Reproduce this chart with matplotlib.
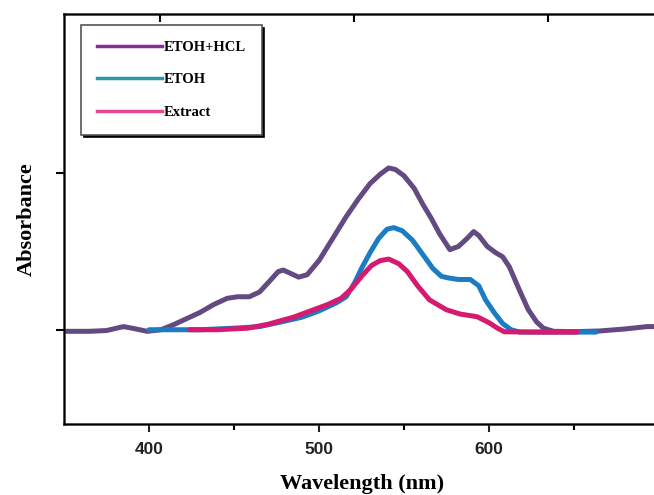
import numpy as np
from matplotlib import pyplot as plt
from matplotlib.lines import Line2D

# UV-Vis spectra
wl_hcl = [351, 365, 375, 381, 385, 390, 399, 407, 414, 422, 430, 438, 446, 452, 459,
          465, 471, 476, 479, 483, 488, 493, 500, 508, 516, 523, 530, 536, 541, 545,
          550, 556, 561, 566, 571, 577, 582, 587, 591, 594, 599, 604, 608, 612, 618,
          623, 628, 632, 638, 650, 665, 680, 693, 700]
abs_hcl = [-0.01, -0.01, -0.005, 0.01, 0.02, 0.01, -0.01, 0.0, 0.03, 0.07, 0.11, 0.16, 0.20, 0.21, 0.21,
           0.24, 0.31, 0.37, 0.38, 0.36, 0.335, 0.35, 0.44, 0.58, 0.72, 0.83, 0.93, 0.99, 1.03, 1.02,
           0.98, 0.90, 0.80, 0.71, 0.61, 0.51, 0.53, 0.58, 0.625, 0.60, 0.53, 0.49, 0.465, 0.40, 0.25,
           0.13, 0.05, 0.01, -0.01, -0.012, -0.008, 0.005, 0.02, 0.02]

wl_etoh = [400, 412, 430, 450, 465, 478, 490, 500, 510, 516, 521, 525, 530, 535, 540,
           544, 549, 555, 561, 567, 572, 576, 582, 589, 594, 598, 603, 608, 613, 618,
           640, 663]
abs_etoh = [0.0, 0.0, 0.0, 0.01, 0.02, 0.05, 0.08, 0.12, 0.17, 0.21, 0.30, 0.39, 0.49, 0.58, 0.64,
            0.65, 0.63, 0.57, 0.48, 0.39, 0.34, 0.33, 0.32, 0.32, 0.28, 0.19, 0.11, 0.04, 0.0, -0.015,
            -0.015, -0.015]

wl_ext = [424, 440, 458, 470, 485, 495, 505, 513, 519, 525, 531, 536, 541, 547, 552,
          558, 565, 575, 583, 593, 600, 605, 609, 630, 652]
abs_ext = [0.0, 0.0, 0.01, 0.035, 0.08, 0.12, 0.16, 0.20, 0.26, 0.34, 0.41, 0.44, 0.45, 0.42, 0.37,
           0.28, 0.19, 0.127, 0.10, 0.083, 0.045, 0.01, -0.013, -0.015, -0.015]

labels = ['ETOH+HCL', 'ETOH', 'Extract']
line_colors = ['#634a80', '#1b7cc4', '#d61a6f']
legend_colors = ['#8b2c9b', '#2c9aa6', '#e64796']
top_ticks = [406.5, 520.6, 634.7]

fig = plt.figure(figsize=(6.54, 4.95), dpi=100)
ax = fig.add_axes([64 / 654, 1 - 424 / 495, 596 / 654, 410 / 495])

for x, y, c in zip([wl_hcl, wl_etoh, wl_ext], [abs_hcl, abs_etoh, abs_ext], line_colors):
    ax.plot(x, y, color=c, lw=3.6, solid_joinstyle='round', solid_capstyle='round')

ax.set_xlim(350, 700.6)
ax.set_ylim(-0.6, 2.01)
ax.set_xticks([400, 500, 600])
ax.set_xticks([450, 550, 650], minor=True)
ax.set_yticks([0, 1])
ax.set_yticklabels([])
ax.tick_params(axis='x', which='major', direction='out', length=6, width=1.5, pad=7,
               labelsize=12.5, colors='#222222')
ax.tick_params(axis='x', which='minor', direction='out', length=4, width=1.5)
ax.tick_params(axis='y', direction='out', length=6, width=1.5)
for lab in ax.get_xticklabels():
    lab.set_fontfamily('Liberation Sans')
    lab.set_fontweight('bold')
for s in ax.spines.values():
    s.set_linewidth(1.8)
    s.set_color('#222222')

ax2 = ax.twiny()
ax2.set_xlim(ax.get_xlim())
ax2.set_xticks(top_ticks)
ax2.set_xticklabels([])
ax2.tick_params(axis='x', direction='in', length=6, width=1.5)

ax.set_xlabel('Wavelength (nm)', fontfamily='Liberation Serif', fontweight='bold',
              fontsize=16, labelpad=12)
ax.set_ylabel('Absorbance', fontfamily='Liberation Serif', fontweight='bold',
              fontsize=16, labelpad=10)

handles = [Line2D([], [], color=c, lw=2.5) for c in legend_colors]
leg = ax.legend(handles, labels, loc='upper left', bbox_to_anchor=(0.0285, 0.973),
                borderaxespad=0, handlelength=4.45, handletextpad=0.1, labelspacing=1.3,
                borderpad=1.1, fancybox=False, shadow={'color': 'black', 'alpha': 1},
                prop={'family': 'Liberation Serif', 'weight': 'bold', 'size': 10.5},
                framealpha=1)
leg.get_frame().set_edgecolor('#555555')
leg.get_frame().set_linewidth(1.2)

plt.savefig('out.png', dpi=100)
